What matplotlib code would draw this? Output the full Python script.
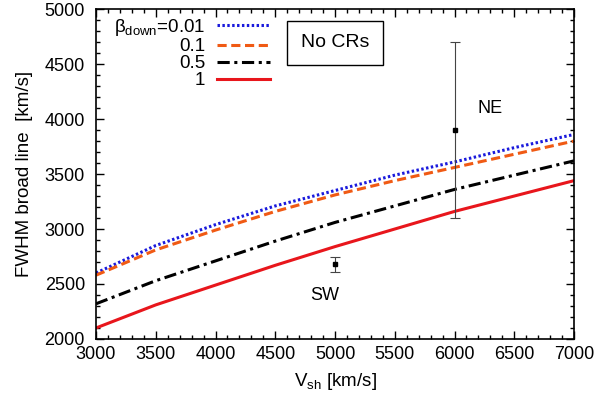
import matplotlib
matplotlib.use("Agg")
import matplotlib.pyplot as plt
from matplotlib.ticker import MultipleLocator

plt.rcParams['font.family'] = ['Liberation Sans', 'DejaVu Sans']
plt.rcParams['mathtext.fontset'] = 'custom'
plt.rcParams['mathtext.rm'] = 'Liberation Sans'
plt.rcParams['mathtext.it'] = 'Liberation Sans'

vsh = [3000, 3500, 4000, 4500, 5000, 5500, 6000, 6500, 7000]
fwhm_b001 = [2600, 2850, 3040, 3210, 3350, 3490, 3610, 3740, 3860]
fwhm_b01 = [2580, 2810, 2990, 3160, 3310, 3440, 3560, 3680, 3800]
fwhm_b05 = [2320, 2530, 2710, 2890, 3060, 3210, 3360, 3490, 3620]
fwhm_b1 = [2100, 2310, 2490, 2670, 2840, 3000, 3160, 3300, 3440]
labels = [r'$\beta_{\rm down}$=0.01', '0.1', '0.5', '1']

obs_x = [6000, 5000]
obs_y = [3900, 2680]
obs_lo = [800, 70]
obs_hi = [800, 70]
obs_names = ['NE', 'SW']

fig = plt.figure(figsize=(6, 3.96), dpi=100)
ax = fig.add_axes([0.16, 0.144, 0.7967, 0.833])

ax.plot(vsh, fwhm_b001, color='#1a1adc', lw=2.2, ls=(0, (0.8, 0.8)), label=labels[0])
ax.plot(vsh, fwhm_b01, color='#f05a14', lw=2.2, ls=(0, (3, 1.5)), label=labels[1])
ax.plot(vsh, fwhm_b05, color='black', lw=2.2, ls=(0, (4, 1.5, 1, 1.5)), label=labels[2])
ax.plot(vsh, fwhm_b1, color='#e8161c', lw=2.2, ls='-', label=labels[3])

ax.errorbar(obs_x, obs_y, yerr=[obs_lo, obs_hi], fmt='s', color='black', ms=2.5,
            ecolor='#444444', elinewidth=0.8, capsize=3.5, capthick=0.8)
ax.text(6300, 4100, obs_names[0], fontsize=13, ha='center', va='center')
ax.text(4910, 2395, obs_names[1], fontsize=13, ha='center', va='center')

ax.text(5000, 4695, 'No CRs', fontsize=14, ha='center', va='center',
        bbox=dict(boxstyle='square,pad=0.7', fc='white', ec='black', lw=1))

ax.set_xlim(3000, 7000)
ax.set_ylim(2000, 5000)
ax.xaxis.set_major_locator(MultipleLocator(500))
ax.xaxis.set_minor_locator(MultipleLocator(100))
ax.yaxis.set_major_locator(MultipleLocator(500))
ax.yaxis.set_minor_locator(MultipleLocator(100))
ax.tick_params(which='both', direction='in', top=True, right=True, labelsize=13, width=1)
ax.tick_params(axis='x', which='major', pad=5)
ax.tick_params(axis='y', which='major', pad=8)
ax.tick_params(which='major', length=6)
ax.tick_params(which='minor', length=3)
for s in ax.spines.values():
    s.set_linewidth(1.2)

ax.set_xlabel(r'V$_{\rm sh}$ [km/s]', fontsize=13.5, labelpad=6)
ax.set_ylabel('FWHM broad line  [km/s]', fontsize=13.5, labelpad=8)

leg = ax.legend(loc='upper right', markerfirst=False, frameon=False, fontsize=13.5,
                handlelength=2.8, handletextpad=0.65, labelspacing=0.0,
                borderaxespad=0.0, borderpad=0.0, bbox_to_anchor=(0.364, 0.976))

fig.savefig('out.png', dpi=100)
